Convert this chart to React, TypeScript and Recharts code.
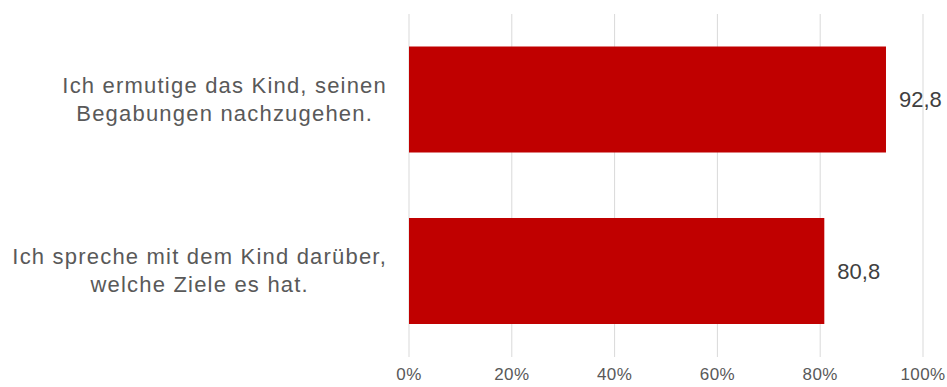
import React from "react";
import { BarChart, Bar, XAxis, YAxis, CartesianGrid, LabelList } from "recharts";

const categories = [
  "Ich ermutige das Kind, seinen Begabungen nachzugehen.",
  "Ich spreche mit dem Kind darüber, welche Ziele es hat.",
];
const categoryLines = [
  ["Ich ermutige das Kind, seinen", "Begabungen nachzugehen."],
  ["Ich spreche mit dem Kind darüber,", "welche Ziele es hat."],
];
const values = [92.8, 80.8];
const xTicks = [0, 20, 40, 60, 80, 100];

const data = categories.map((c, i) => ({ name: c, value: values[i], lines: categoryLines[i] }));

const FONT = "'Liberation Sans', Arial, sans-serif";

const YTick = (props: any) => {
  const { x, y, payload } = props;
  const idx = categories.indexOf(payload.value);
  const lines = categoryLines[idx] || [payload.value];
  const w = 400;
  const h = 80;
  return (
    <foreignObject x={x - w - 14} y={y - h / 2} width={w} height={h}>
      <div
        style={{
          width: w,
          height: h,
          display: "flex",
          justifyContent: "flex-end",
          alignItems: "center",
        }}
      >
        <div
          style={{
            textAlign: "center",
            fontFamily: FONT,
            fontSize: 22,
            letterSpacing: "1.2px",
            lineHeight: "28px",
            color: "#595959",
          }}
        >
          {lines.map((l: string, i: number) => (
            <div key={i} style={{ whiteSpace: "nowrap" }}>{l}</div>
          ))}
        </div>
      </div>
    </foreignObject>
  );
};

export default function App() {
  return (
    <div style={{ position: "absolute", left: 0, top: 0, background: "#fff" }}>
      <BarChart
        width={947}
        height={387}
        data={data}
        layout="vertical"
        margin={{ top: 14, right: 24, left: 0, bottom: 0 }}
        barCategoryGap="19%"
      >
        <CartesianGrid horizontal={false} stroke="#d9d9d9" />
        <XAxis
          type="number"
          domain={[0, 100]}
          ticks={xTicks}
          tickFormatter={(v) => `${v}%`}
          axisLine={false}
          tickLine={false}
          height={30}
          tick={{ fill: "#595959", fontSize: 17, fontFamily: FONT, letterSpacing: 0.4 }}
          tickMargin={5}
        />
        <YAxis
          type="category"
          dataKey="name"
          width={409}
          axisLine={false}
          tickLine={false}
          tick={<YTick />}
        />
        <Bar dataKey="value" fill="#C00000" isAnimationActive={false}>
          <LabelList
            dataKey="value"
            position="right"
            offset={13}
            formatter={(v: any) => String(v).replace(".", ",")}
            style={{ fill: "#404040", fontSize: 22, fontFamily: FONT }}
          />
        </Bar>
      </BarChart>
    </div>
  );
}
